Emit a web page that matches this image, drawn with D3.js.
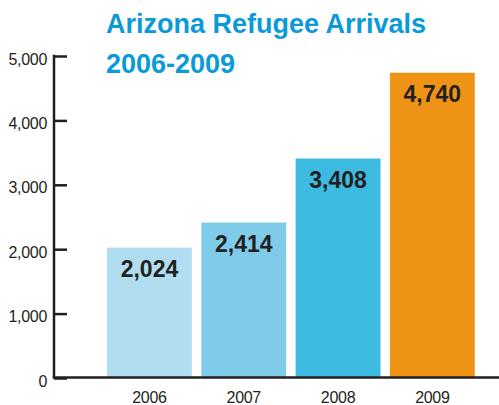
<!DOCTYPE html>
<html><head><meta charset="utf-8">
<script src="https://cdn.jsdelivr.net/npm/d3@7"></script>
<style>body{margin:0;background:#fff}svg{display:block}</style>
</head><body>
<script>
const categories = ["2006","2007","2008","2009"];
const values = [2024, 2414, 3408, 4740];
const barColors = ["#b1ddf1","#7ecbea","#3cbae1","#ef9316"];
const yTicks = [0,1000,2000,3000,4000,5000];
const titleLines = ["Arizona Refugee Arrivals","2006-2009"];

const W = 499, H = 405;
const svg = d3.select("body").append("svg").attr("width",W).attr("height",H);
const y = d3.scaleLinear().domain([0,5000]).range([378,56]);
const x = d3.scaleBand().domain(categories).range([102.3,479.5]).paddingInner(0.1).paddingOuter(0.05);
const fmt = d3.format(",");
const ink = "#231f20";

svg.selectAll("rect.bar").data(values).enter().append("rect")
  .attr("class","bar")
  .attr("x",(d,i)=>x(categories[i]))
  .attr("width",x.bandwidth())
  .attr("y",d=>y(d))
  .attr("height",d=>y(0)-y(d))
  .attr("fill",(d,i)=>barColors[i]);

svg.selectAll("text.val").data(values).enter().append("text")
  .attr("x",(d,i)=>x(categories[i])+x.bandwidth()/2)
  .attr("y",d=>y(d)+29.5)
  .attr("text-anchor","middle")
  .attr("font-family","'Liberation Sans', Arial, sans-serif")
  .attr("font-weight","bold")
  .attr("font-size","23px")
  .attr("fill",ink)
  .text(d=>fmt(d));

// y axis
const yAxis = svg.append("g").attr("transform","translate(54,0)")
  .call(d3.axisRight(y).tickValues(yTicks).tickSize(13).tickFormat(""));
yAxis.select(".domain").remove();
yAxis.selectAll("line").attr("stroke",ink).attr("stroke-width",2.5);
svg.append("line").attr("x1",54).attr("x2",54).attr("y1",y(5000)-1.25).attr("y2",y(0))
  .attr("stroke",ink).attr("stroke-width",2.5);
svg.selectAll("text.yt").data(yTicks).enter().append("text")
  .attr("x",47).attr("y",d=>y(d)+3).attr("dy","0.35em")
  .attr("text-anchor","end")
  .attr("font-family","'Liberation Sans', Arial, sans-serif")
  .attr("font-size","16px").attr("letter-spacing","-0.3px")
  .attr("fill",ink).text(d=>fmt(d));

// x axis
const xAxis = svg.append("g").attr("transform","translate(0,377.5)")
  .call(d3.axisBottom(x).tickSize(0).tickPadding(0));
xAxis.select(".domain").remove();
svg.append("line").attr("x1",52.75).attr("x2",W).attr("y1",377.5).attr("y2",377.5)
  .attr("stroke",ink).attr("stroke-width",2.5);
xAxis.selectAll("text")
  .attr("y",25).attr("dy",0)
  .attr("font-family","'Liberation Sans', Arial, sans-serif")
  .attr("font-size","16px").attr("letter-spacing","-0.3px")
  .attr("fill",ink);

// title
svg.selectAll("text.title").data(titleLines).enter().append("text")
  .attr("x",106).attr("y",(d,i)=>33+i*39.5)
  .attr("font-family","'Liberation Sans', Arial, sans-serif")
  .attr("font-weight","bold").attr("font-size","27px")
  .attr("fill","#0a9ad9").text(d=>d);
</script>
</body></html>
